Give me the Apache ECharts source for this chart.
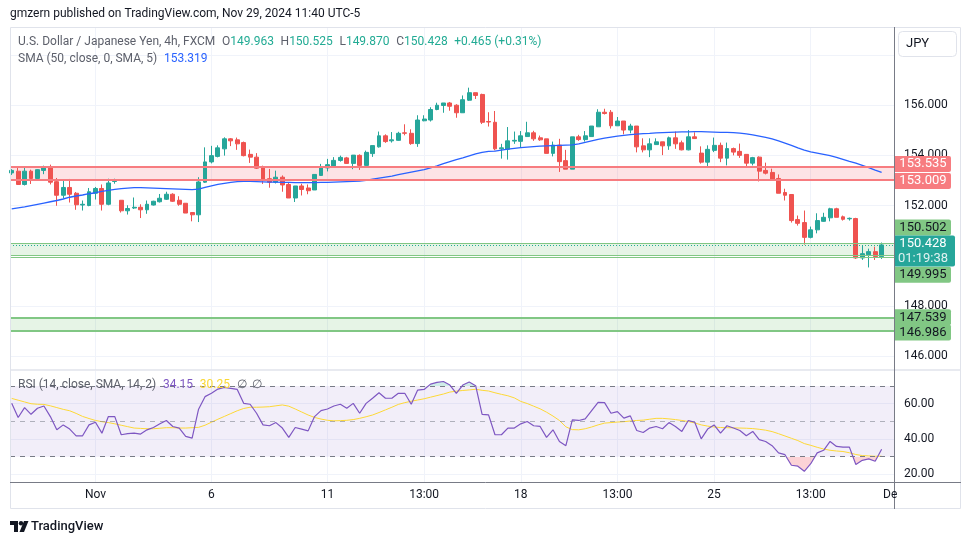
<!DOCTYPE html>
<html><head><meta charset="utf-8">
<script src="https://cdn.jsdelivr.net/npm/echarts@6/dist/echarts.min.js"></script>
<style>html,body{margin:0;padding:0;background:#fff;}#c{width:970px;height:545px;}</style>
</head><body><div id="c"></div>
<script>
// ---- data (USDJPY 4h, FXCM) ----
const opens = [153.30,153.37,152.84,153.37,153.08,153.40,153.54,152.95,152.41,152.72,
152.49,152.02,152.00,152.49,152.68,152.05,152.96,152.21,151.79,151.90,
151.93,151.83,152.02,152.15,152.25,152.45,152.21,152.09,151.72,151.63,
152.93,153.74,153.96,154.26,154.66,154.62,154.51,154.04,153.93,153.54,
153.07,152.93,153.13,152.84,152.30,152.78,152.70,152.62,153.20,153.50,
153.58,153.80,153.90,153.68,154.00,153.60,154.07,154.34,154.78,154.58,
154.60,154.90,154.88,154.47,155.38,155.41,155.83,155.99,156.09,156.00,
155.70,156.20,156.50,156.43,155.35,155.32,154.26,154.24,154.57,154.56,
154.75,154.90,154.70,154.66,154.08,154.41,153.79,153.45,154.74,154.63,
154.75,155.14,155.72,155.72,155.18,155.37,155.01,155.17,154.38,154.22,
154.43,154.54,154.38,154.70,154.50,154.22,154.74,154.09,153.73,154.20,
154.40,153.89,154.27,154.16,154.04,153.69,153.93,153.40,153.32,153.08,
152.52,152.44,151.44,151.32,150.73,151.03,151.37,151.51,151.87,151.55,
151.47,151.48,149.91,150.04,150.16,149.963];
const highs = [153.45,153.50,153.50,153.43,153.45,153.59,153.63,153.10,153.00,153.06,
152.54,152.20,152.70,152.74,152.84,153.07,153.07,152.21,152.01,152.32,
152.05,152.20,152.19,152.46,152.55,152.49,152.37,152.09,151.74,153.13,
154.32,154.38,154.40,154.72,154.69,154.71,154.55,154.23,154.09,153.59,
153.46,153.39,153.20,152.93,152.78,152.87,152.84,153.24,153.66,153.86,
153.93,153.99,153.94,154.01,154.04,154.19,154.39,154.95,154.84,154.93,
154.94,155.24,155.04,155.60,155.60,155.92,156.10,156.09,156.13,156.04,
156.39,156.70,156.50,156.46,155.72,155.77,154.46,155.13,154.95,154.97,
155.34,154.98,154.79,154.66,154.55,154.66,154.22,154.74,154.82,154.97,
155.17,155.84,155.86,155.81,155.53,155.37,155.26,155.17,154.68,154.68,
154.68,154.54,154.75,154.95,154.59,155.01,154.92,154.36,154.40,154.71,
154.51,154.51,154.31,154.47,154.04,153.94,153.96,153.71,153.47,153.24,
152.67,152.44,151.60,151.80,151.16,151.69,151.71,151.91,151.91,151.60,
151.52,151.51,150.40,150.28,150.36,150.525];
const lows = [153.22,152.82,152.80,152.86,153.06,153.25,152.84,151.99,152.29,152.12,
151.83,151.80,151.97,152.24,151.80,152.01,152.87,151.72,151.64,151.86,
151.50,151.67,152.00,152.12,152.22,152.14,151.99,151.70,151.37,151.34,
152.90,153.68,153.92,153.99,154.37,154.22,153.96,153.70,153.46,152.86,
152.71,152.88,152.55,152.30,152.14,152.40,152.45,152.62,153.18,153.36,
153.53,153.75,153.66,153.45,153.42,153.60,153.94,154.31,154.50,154.51,
154.58,154.80,154.42,154.34,155.36,155.35,155.80,155.70,155.78,155.50,
155.70,156.17,156.25,155.25,155.15,154.20,153.87,153.83,154.46,154.32,
154.75,154.58,154.58,154.08,153.96,153.34,153.45,153.45,154.58,154.55,
154.75,155.14,155.63,155.07,155.18,154.84,154.88,154.12,154.12,153.93,
154.43,154.01,154.22,154.26,154.20,154.20,154.66,153.67,153.53,154.13,
153.73,153.60,154.00,153.90,153.53,153.60,152.96,153.24,153.00,152.49,
152.20,151.32,151.20,150.44,150.69,150.89,151.35,151.37,151.53,151.40,
151.40,149.87,149.83,149.53,149.83,149.870];
const closes = [153.40,152.84,153.37,153.08,153.43,153.55,152.93,152.41,152.72,152.45,
152.03,152.05,152.55,152.68,152.05,152.90,152.99,151.79,151.88,151.93,
151.83,152.05,152.17,152.29,152.45,152.17,152.05,151.70,151.63,152.94,
153.74,153.99,154.30,154.66,154.58,154.46,153.99,153.93,153.49,153.01,
152.93,153.13,152.82,152.30,152.78,152.64,152.59,153.24,153.55,153.63,
153.80,153.92,153.68,154.01,153.60,154.12,154.39,154.78,154.55,154.62,
154.88,154.88,154.47,155.41,155.45,155.83,156.00,156.09,155.96,155.70,
156.22,156.50,156.39,155.32,155.33,154.26,154.30,154.58,154.60,154.78,
154.90,154.66,154.62,154.08,154.41,153.75,153.45,154.74,154.63,154.78,
155.17,155.72,155.67,155.18,155.37,155.01,155.17,154.34,154.22,154.46,
154.54,154.38,154.70,154.46,154.22,154.74,154.67,153.73,154.24,154.40,
153.89,154.27,154.13,154.00,153.69,153.91,153.37,153.29,153.03,152.49,
152.41,151.40,151.29,150.73,151.03,151.40,151.53,151.87,151.53,151.45,
151.49,149.91,150.08,150.16,149.963,150.428];
const sma50 = [151.87,151.91,151.95,152.0,152.05,152.1,152.15,152.2,152.26,152.33,
152.38,152.42,152.47,152.51,152.56,152.6,152.64,152.67,152.69,152.71,
152.71,152.7,152.69,152.68,152.67,152.66,152.65,152.64,152.63,152.65,
152.72,152.78,152.84,152.88,152.92,152.95,152.96,152.96,152.95,152.94,
152.93,152.93,152.92,152.92,152.91,152.91,152.91,152.91,152.92,152.92,
152.93,152.94,152.95,152.96,152.97,153.0,153.05,153.09,153.13,153.17,
153.23,153.28,153.33,153.38,153.43,153.5,153.58,153.67,153.75,153.83,
153.9,153.98,154.06,154.12,154.16,154.17,154.21,154.25,154.28,154.31,
154.33,154.35,154.37,154.38,154.39,154.4,154.41,154.42,154.46,154.52,
154.58,154.64,154.69,154.73,154.77,154.8,154.83,154.85,154.87,154.88,
154.9,154.91,154.92,154.93,154.94,154.94,154.95,154.95,154.94,154.93,
154.92,154.92,154.91,154.89,154.86,154.82,154.77,154.72,154.66,154.58,
154.49,154.4,154.3,154.21,154.14,154.09,154.04,153.99,153.92,153.84,
153.76,153.69,153.6,153.51,153.41,153.319];
const rsi = [60.2,52.2,57.8,54,57.4,58.7,52.7,45.2,48,45.6,
41.8,41.8,48,49.5,43.3,52.7,52.7,42.4,43,43.3,
42.8,45.2,46.5,48.6,50.5,47.1,46.2,41.5,40.5,56.9,
64,65.9,68.3,69.2,68.7,68.1,60.2,59.7,54.6,48,
47.5,49.3,46.2,40.9,46.5,45.6,44.6,52.7,56.1,57,
58.7,59.7,57.4,60.2,54.6,60.2,63.1,66.2,63.1,63.1,
65.9,65.9,59.7,67.7,68.1,71.1,72.1,72.6,70.6,65.9,
70.6,72.3,70.2,54,53.7,42.4,42.4,46.2,46.2,48.6,
49.9,47.5,47.1,40.9,45.2,38.6,36.2,50.8,50.5,51.4,
56.1,60.8,60.6,54.6,55.5,51.8,53.1,44.8,43.7,46.2,
47.1,45.8,49.3,47.1,44.3,50.5,49.5,40.1,45.6,48,
43.3,47.5,46.2,44.8,41.8,44.3,39.6,38.6,36.2,32.1,
31.1,25.1,24.6,21.7,26,32.1,33.6,38.6,35.8,35.4,
35.4,25.5,27.9,28.7,27.4,34.15];
const rsiMA = [63,62,61,60,59.7,59.6,58.8,57.8,56.8,56,
54.5,52.8,51.6,50.5,49.8,49.3,48.6,47.8,47,46.2,
46,45.8,45.8,46.1,46.4,46.4,46.2,46.2,46.4,46.6,
47.8,49.5,51.2,52.8,54.4,56,57.3,58,58,58.1,
58.3,58.8,59.3,58.6,57,55.3,53.6,52.2,51.3,50.6,
50.3,50.4,50.6,51,51.7,52.6,53.6,55,56.5,58,
59.6,60.6,61.4,62.1,62.8,63.7,64.6,65.5,66.6,67.1,
67.5,67.8,68.2,67.6,67.2,66.2,65.3,64.5,63.3,61.3,
60.1,58.6,57.1,55.2,53,50.5,46.9,45.3,45.2,45.8,
46.8,48,49,49.3,49.6,49.8,50.2,50.5,50.7,51.2,
51.7,51.7,51.4,51,50.5,49.9,49.1,48,47.3,46.8,
46.5,46.4,46.3,46.2,46.1,45.9,45.5,45,44.2,43,
41.7,40.4,39.1,37.4,36.4,35.3,34.3,33.6,33.2,32.9,
32.2,31.2,30.6,30.4,30.2,30.25];
const timeTickIndex = [13,31,49,64,79,94,109,124];
const timeTickLabels = ['Nov','6','11','13:00','18','13:00','25','13:00'];
const priceGrid = [146,148,150,152,154,156,158];
const priceLabels = [146,148,150,152,154,156];
const rsiGrid = [20,40,60];
const resistanceZone = [153.009, 153.535];
const supportZone1 = [149.995, 150.502];
const supportZone2 = [146.986, 147.539];
const lastPrice = 150.428;
const countdown = '01:19:38';

// ---- chart ----
const UP = '#26a69a', DOWN = '#ef5350';
const FONT = 'Roboto';
const n = closes.length;
const candleData = closes.map((c, i) => [i, opens[i], c, lows[i], highs[i]]);
const smaData = sma50.map((v, i) => [i, v]);
const rsiData = rsi.map((v, i) => [i, v]);
const rsiMAData = rsiMA.map((v, i) => [i, v]);
const xMin = -0.264, xMax = 136.92;

const chart = echarts.init(document.getElementById('c'), null, {renderer: 'canvas'});
const gridLine = {show: true, lineStyle: {color: '#f0f3fa', width: 1}};
const xCommon = {type: 'value', min: xMin, max: xMax, axisLine: {show: false},
  axisTick: {show: false, customValues: timeTickIndex}, splitLine: gridLine};

chart.setOption({
  animation: false,
  textStyle: {fontFamily: FONT},
  grid: [
    {left: 10, right: 76, top: 27, height: 343},
    {left: 10, right: 76, top: 371, height: 111}
  ],
  xAxis: [
    Object.assign({gridIndex: 0, axisLabel: {show: false}}, xCommon),
    Object.assign({gridIndex: 1, axisLabel: {show: true, customValues: timeTickIndex, color: '#131722', fontSize: 12, margin: 7,
      formatter: v => timeTickLabels[timeTickIndex.indexOf(Math.round(v))] || ''}}, xCommon)
  ],
  yAxis: [
    {gridIndex: 0, type: 'value', position: 'right', min: 145.44, max: 159.12, scale: true,
      axisLine: {show: false}, axisTick: {show: false, customValues: priceGrid},
      axisLabel: {customValues: priceLabels, formatter: v => v.toFixed(3), color: '#131722', fontSize: 12, margin: 10},
      splitLine: gridLine},
    {gridIndex: 1, type: 'value', position: 'right', min: 15.62, max: 78.54,
      axisLine: {show: false}, axisTick: {show: false, customValues: rsiGrid},
      axisLabel: {customValues: rsiGrid, formatter: v => v.toFixed(2), color: '#131722', fontSize: 12, margin: 10},
      splitLine: gridLine}
  ],
  visualMap: [{
    show: false, type: 'piecewise', seriesIndex: 3, dimension: 1,
    pieces: [
      {lt: 30, color: 'rgba(242,54,69,0.22)'},
      {gte: 30, lte: 70, color: 'rgba(255,255,255,0)'},
      {gt: 70, color: 'rgba(34,171,148,0.22)'}
    ]
  }],
  series: [
    {
      type: 'candlestick', xAxisIndex: 0, yAxisIndex: 0, data: candleData,
      encode: {x: 0, y: [1, 2, 3, 4]}, barWidth: 4.4, z: 3,
      itemStyle: {color: UP, color0: DOWN, borderColor: UP, borderColor0: DOWN, borderWidth: 1},
      markArea: {silent: true, data: [
        [{yAxis: resistanceZone[0], itemStyle: {color: 'rgba(242,54,69,0.14)'}}, {yAxis: resistanceZone[1]}],
        [{yAxis: supportZone1[0], itemStyle: {color: 'rgba(76,175,80,0.14)'}}, {yAxis: supportZone1[1]}],
        [{yAxis: supportZone2[0], itemStyle: {color: 'rgba(76,175,80,0.14)'}}, {yAxis: supportZone2[1]}]
      ]},
      markLine: {silent: true, symbol: ['none', 'none'], label: {show: false}, data: [
        {yAxis: resistanceZone[1], lineStyle: {color: '#f77c80', width: 2, type: 'solid'}},
        {yAxis: resistanceZone[0], lineStyle: {color: '#f77c80', width: 2, type: 'solid'}},
        {yAxis: supportZone1[1], lineStyle: {color: '#81c784', width: 1.2, type: 'solid'}},
        {yAxis: supportZone1[0] + 0.04, lineStyle: {color: '#81c784', width: 1.2, type: 'solid'}},
        {yAxis: supportZone1[0] - 0.05, lineStyle: {color: '#81c784', width: 1.2, type: 'solid'}},
        {yAxis: supportZone2[1], lineStyle: {color: '#81c784', width: 2, type: 'solid'}},
        {yAxis: supportZone2[0], lineStyle: {color: '#81c784', width: 2, type: 'solid'}},
        {yAxis: lastPrice, lineStyle: {color: '#22ab94', width: 1, type: [1, 2]}}
      ]}
    },
    {
      type: 'line', xAxisIndex: 0, yAxisIndex: 0, data: smaData, showSymbol: false, z: 4,
      lineStyle: {color: '#2962ff', width: 1.3}
    },
    {
      type: 'line', xAxisIndex: 1, yAxisIndex: 1, data: rsiMAData, showSymbol: false, z: 4,
      lineStyle: {color: '#fdd835', width: 1},
      markArea: {silent: true, data: [[{yAxis: 30, itemStyle: {color: 'rgba(126,87,194,0.1)'}}, {yAxis: 70}]]},
      markLine: {silent: true, symbol: ['none', 'none'], label: {show: false}, data: [
        {yAxis: 70, lineStyle: {color: '#787b86', width: 1, type: [5, 5]}},
        {yAxis: 50, lineStyle: {color: 'rgba(120,123,134,0.55)', width: 1, type: [5, 5]}},
        {yAxis: 30, lineStyle: {color: '#787b86', width: 1, type: [5, 5]}}
      ]}
    },
    {
      type: 'line', xAxisIndex: 1, yAxisIndex: 1, data: rsiData, showSymbol: false, z: 2,
      lineStyle: {width: 0, opacity: 0}, areaStyle: {origin: 30, opacity: 1}
    },
    {
      type: 'line', xAxisIndex: 1, yAxisIndex: 1, data: rsiData, showSymbol: false, z: 5,
      lineStyle: {color: '#7e57c2', width: 1.2}
    }
  ]
});

// ---- overlay: frame, legends, price tags ----
const g = [];
const Z = 50;
const LF = 12;
g.push({type: 'text', x: 10, y: 14, z: Z, style: {text: 'gmzern published on TradingView.com, Nov 29, 2024 11:40 UTC-5',
  fontSize: LF, fontFamily: FONT, fill: '#131722', textVerticalAlign: 'middle'}});
g.push({type: 'rect', z: Z, shape: {x: 10.5, y: 27.5, width: 950, height: 481}, style: {fill: 'none', stroke: '#e0e3eb', lineWidth: 1}});
g.push({type: 'line', z: Z, shape: {x1: 10, y1: 370, x2: 961, y2: 370}, style: {stroke: '#e0e3eb', lineWidth: 1.5}});
g.push({type: 'line', z: Z, shape: {x1: 894.5, y1: 27, x2: 894.5, y2: 509}, style: {stroke: '#787b86', lineWidth: 1}});
g.push({type: 'line', z: Z, shape: {x1: 10, y1: 482.5, x2: 961, y2: 482.5}, style: {stroke: '#787b86', lineWidth: 1}});
g.push({type: 'rect', z: Z, shape: {x: 898.5, y: 31.5, width: 58, height: 25, r: 4}, style: {fill: '#fff', stroke: '#e0e3eb', lineWidth: 1}});
g.push({type: 'text', x: 906, y: 44, z: Z, style: {text: 'JPY', fontSize: 13, fontFamily: FONT, fill: '#131722', textVerticalAlign: 'middle'}});

const last = n - 1;
const chg = closes[last] - closes[last - 1];
const pct = chg / closes[last - 1] * 100;
const sgn = v => (v >= 0 ? '+' : '') ;
const rich = {
  t: {fill: '#5d606b', fontSize: LF, fontFamily: FONT},
  v: {fill: '#22ab94', fontSize: LF, fontFamily: FONT},
  b: {fill: '#2962ff', fontSize: LF, fontFamily: FONT},
  p: {fill: '#7e57c2', fontSize: LF, fontFamily: FONT},
  y: {fill: '#f9d835', fontSize: LF, fontFamily: FONT}
};
g.push({type: 'text', x: 18, y: 42, z: Z, style: {rich, textVerticalAlign: 'middle',
  text: '{t|U.S. Dollar / Japanese Yen, 4h, FXCM}  {t|O}{v|' + opens[last].toFixed(3) + '}  {t|H}{v|' + highs[last].toFixed(3) +
    '}  {t|L}{v|' + lows[last].toFixed(3) + '}  {t|C}{v|' + closes[last].toFixed(3) + '}  {v|' + sgn(chg) + chg.toFixed(3) +
    ' (' + sgn(pct) + pct.toFixed(2) + '%)}'}});
g.push({type: 'text', x: 18, y: 59, z: Z, style: {rich, textVerticalAlign: 'middle',
  text: '{t|SMA (50, close, 0, SMA, 5)}  {b|' + sma50[last].toFixed(3) + '}'}});
g.push({type: 'text', x: 18, y: 385, z: Z, style: {rich, textVerticalAlign: 'middle',
  text: '{t|RSI (14, close, SMA, 14, 2)}  {p|' + rsi[last].toFixed(2) + '}  {y|' + rsiMA[last].toFixed(2) + '}  {t|\u2205  \u2205}'}});

// price tags on the right scale
const tags = [
  {v: resistanceZone[1], bg: '#f77c80', fg: '#ffffff', dy: -3},
  {v: resistanceZone[0], bg: '#f77c80', fg: '#ffffff', dy: 0.7},
  {v: supportZone1[1], bg: '#81c784', fg: '#131722', dy: -15.5},
  {v: supportZone1[0], bg: '#81c784', fg: '#131722', dy: 19},
  {v: supportZone2[1], bg: '#81c784', fg: '#131722', dy: 0},
  {v: supportZone2[0], bg: '#81c784', fg: '#131722', dy: 1.2}
];
tags.forEach(t => {
  const y = chart.convertToPixel({yAxisIndex: 0}, t.v) + t.dy;
  g.push({type: 'rect', z: Z + 1, shape: {x: 895, y: y - 8, width: 56, height: 16, r: [0, 2, 2, 0]}, style: {fill: t.bg}});
  g.push({type: 'text', z: Z + 2, x: 923, y: y, style: {text: t.v.toFixed(3), fontSize: 13, fontFamily: FONT, fill: t.fg,
    textAlign: 'center', textVerticalAlign: 'middle'}});
});
const yl = chart.convertToPixel({yAxisIndex: 0}, lastPrice) + 6;
g.push({type: 'rect', z: Z + 1, shape: {x: 895, y: yl - 15.5, width: 60, height: 31, r: [0, 2, 2, 0]}, style: {fill: '#26a69a'}});
g.push({type: 'text', z: Z + 2, x: 923, y: yl - 7, style: {text: lastPrice.toFixed(3), fontSize: 13, fontFamily: FONT, fill: '#fff', textAlign: 'center', textVerticalAlign: 'middle'}});
g.push({type: 'text', z: Z + 2, x: 923, y: yl + 8, style: {text: countdown, fontSize: 13, fontFamily: FONT, fill: '#e0f2f1', textAlign: 'center', textVerticalAlign: 'middle'}});

// clipped "Dec" label at the right edge of the time scale
g.push({type: 'text', z: Z, x: 883, y: 495, style: {text: 'De', fontSize: 12, fontFamily: FONT, fill: '#131722', textVerticalAlign: 'middle'}});

// TradingView footer logo
g.push({type: 'polygon', z: Z, shape: {points: [[10, 521], [18, 521], [18, 532], [14, 532], [14, 525], [10, 525]]}, style: {fill: '#131722'}});
g.push({type: 'circle', z: Z, shape: {cx: 21, cy: 523.2, r: 2.2}, style: {fill: '#131722'}});
g.push({type: 'polygon', z: Z, shape: {points: [[24, 521], [28.5, 521], [24, 532], [19.5, 532]]}, style: {fill: '#131722'}});
g.push({type: 'text', z: Z, x: 31, y: 527, style: {text: 'TradingView', fontSize: 13, fontFamily: FONT, fontWeight: 500, fill: '#131722', textVerticalAlign: 'middle'}});

chart.setOption({graphic: {elements: g}});
</script></body></html>
